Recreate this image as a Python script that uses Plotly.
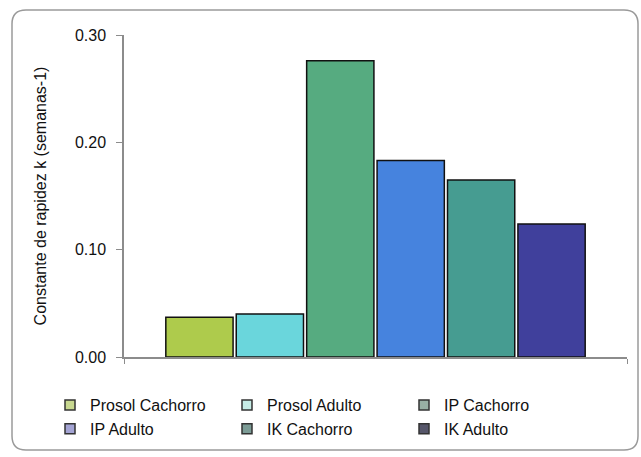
import plotly.graph_objects as go

series = ["Prosol Cachorro", "Prosol Adulto", "IP Cachorro", "IP Adulto", "IK Cachorro", "IK Adulto"]
values = [0.037, 0.040, 0.276, 0.183, 0.165, 0.124]
category = ["k"]
bar_colors = ["#aecb4c", "#6ad6dc", "#56ab80", "#4683de", "#469c91", "#40409c"]
legend_colors = ["#c8d890", "#c6ece6", "#98b0a4", "#a4a4d4", "#7c9c96", "#56566a"]
y_ticks = [0.0, 0.1, 0.2, 0.3]
y_ticklabels = ["0.00", "0.10", "0.20", "0.30"]

FONT = "Liberation Sans"
fig = go.Figure()
for name, v, c in zip(series, values, bar_colors):
    fig.add_trace(go.Bar(
        x=category, y=[v], name=name, legendgroup=name, showlegend=False,
        marker=dict(color=c, line=dict(color="#111111", width=1.5)),
    ))
for name, c in zip(series, legend_colors):
    fig.add_trace(go.Scatter(
        x=[None], y=[None], name=name, legendgroup=name, mode="markers",
        marker=dict(symbol="square", size=10, color=c, line=dict(color="#333333", width=1.5)),
    ))

# plot area in pixels
L, R, T, B = 124, 627, 35, 357
W, H = R - L, B - T
def px(x): return (x - L) / W
def py(y): return (B - y) / H
x0, x1, y0, y1, r = 12, 638, 10, 450, 14
path = (f"M {px(x0+r)},{py(y0)} L {px(x1-r)},{py(y0)} Q {px(x1)},{py(y0)} {px(x1)},{py(y0+r)} "
        f"L {px(x1)},{py(y1-r)} Q {px(x1)},{py(y1)} {px(x1-r)},{py(y1)} "
        f"L {px(x0+r)},{py(y1)} Q {px(x0)},{py(y1)} {px(x0)},{py(y1-r)} "
        f"L {px(x0)},{py(y0+r)} Q {px(x0)},{py(y0)} {px(x0+r)},{py(y0)} Z")

fig.update_layout(
    width=641, height=457,
    margin=dict(l=L, r=641 - R, t=T, b=457 - B, autoexpand=False),
    paper_bgcolor="white", plot_bgcolor="white",
    barmode="group", bargap=0.16, bargroupgap=0.045,
    font=dict(family=FONT, size=16, color="#111111"),
    shapes=[dict(type="path", path=path, xref="paper", yref="paper",
                 line=dict(color="#9a9a9a", width=1.5), layer="below")],
    legend=dict(orientation="h", x=px(50), xanchor="left", y=py(388), yanchor="top",
                entrywidth=132, entrywidthmode="pixels", itemwidth=30,
                font=dict(family=FONT, size=16, color="#111111"), tracegroupgap=0,
                bgcolor="rgba(0,0,0,0)"),
    xaxis=dict(showticklabels=False, showline=True, linecolor="#8c8c8c", linewidth=1.5,
               ticks="outside", tickson="boundaries", ticklen=5, tickcolor="#8c8c8c",
               showgrid=False, zeroline=False),
    yaxis=dict(range=[0, 0.30], tickvals=y_ticks, ticktext=y_ticklabels,
               showline=True, linecolor="#8c8c8c", linewidth=1.5,
               ticks="outside", ticklen=6, tickcolor="#8c8c8c", showgrid=False, zeroline=False,
               tickfont=dict(family=FONT, size=16), ticklabelstandoff=7,
               title=dict(text="Constante de rapidez k (semanas-1)", standoff=24,
                          font=dict(family=FONT, size=16))),
)
fig.write_html("out.html", config={"displayModeBar": False},
               post_script="document.body.style.margin='0';")
